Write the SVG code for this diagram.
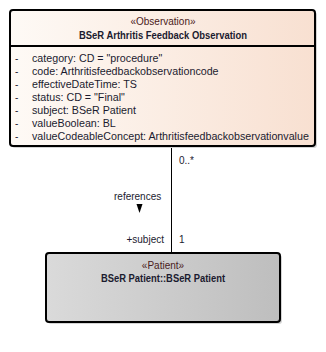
<svg xmlns="http://www.w3.org/2000/svg" width="326" height="352" viewBox="0 0 326 352">
<defs>
<linearGradient id="gObs" x1="0" y1="0" x2="1" y2="0">
<stop offset="0" stop-color="#fefaf6"/>
<stop offset="1" stop-color="#f8e0d1"/>
</linearGradient>
<linearGradient id="gPat" x1="0" y1="0" x2="1" y2="0">
<stop offset="0" stop-color="#dadada"/>
<stop offset="1" stop-color="#bebebe"/>
</linearGradient>
<style>
text{font-family:"Liberation Sans",Arial,sans-serif;font-size:10px;fill:#1b1b2f}
.a{font-size:10.7px}
.b{font-weight:bold;font-size:10.5px}
.m{text-anchor:middle}
.e{text-anchor:end}
.st{fill:#4a2020}
.box{stroke:#000;stroke-width:2}
.sh{fill:#d4d4d4}
.ln{stroke:#000;stroke-width:1;fill:none}
</style>
</defs>
<g id="connectors">
<line class="ln" x1="171.5" y1="146" x2="171.5" y2="253"/>
<text x="179" y="164">0..*</text>
<text x="179" y="243">1</text>
<text class="e" x="164" y="243">+subject</text>
<text x="114" y="200">references</text>
<polygon points="136.5,204 142.5,204 139.5,213" fill="#000"/>
</g>
<g id="observation">
<rect class="sh" x="12" y="12" width="305" height="136" rx="3"/>
<rect class="box" x="10" y="10" width="305" height="136" rx="3" fill="url(#gObs)"/>
<line class="box" x1="10" y1="46" x2="315" y2="46"/>
<text class="m st" x="163" y="25">«Observation»</text>
<text class="m b" x="163" y="39" textLength="168" lengthAdjust="spacingAndGlyphs">BSeR Arthritis Feedback Observation</text>
<text x="15" y="62">-</text><text class="a" x="32" y="62">category: CD = "procedure"</text>
<text x="15" y="75">-</text><text class="a" x="32" y="75">code: Arthritisfeedbackobservationcode</text>
<text x="15" y="88">-</text><text class="a" x="32" y="88">effectiveDateTime: TS</text>
<text x="15" y="101">-</text><text class="a" x="32" y="101">status: CD = "Final"</text>
<text x="15" y="114">-</text><text class="a" x="32" y="114">subject: BSeR Patient</text>
<text x="15" y="127">-</text><text class="a" x="32" y="127">valueBoolean: BL</text>
<text x="15" y="140">-</text><text class="a" x="32" y="140">valueCodeableConcept: Arthritisfeedbackobservationvalue</text>
</g>
<g id="patient">
<rect class="sh" x="48" y="255" width="234" height="69" rx="3"/>
<rect class="box" x="46" y="253" width="234" height="69" rx="3" fill="url(#gPat)"/>
<text class="m st" x="163" y="269">«Patient»</text>
<text class="m b" x="163" y="282" textLength="124" lengthAdjust="spacingAndGlyphs">BSeR Patient::BSeR Patient</text>
</g>
</svg>
